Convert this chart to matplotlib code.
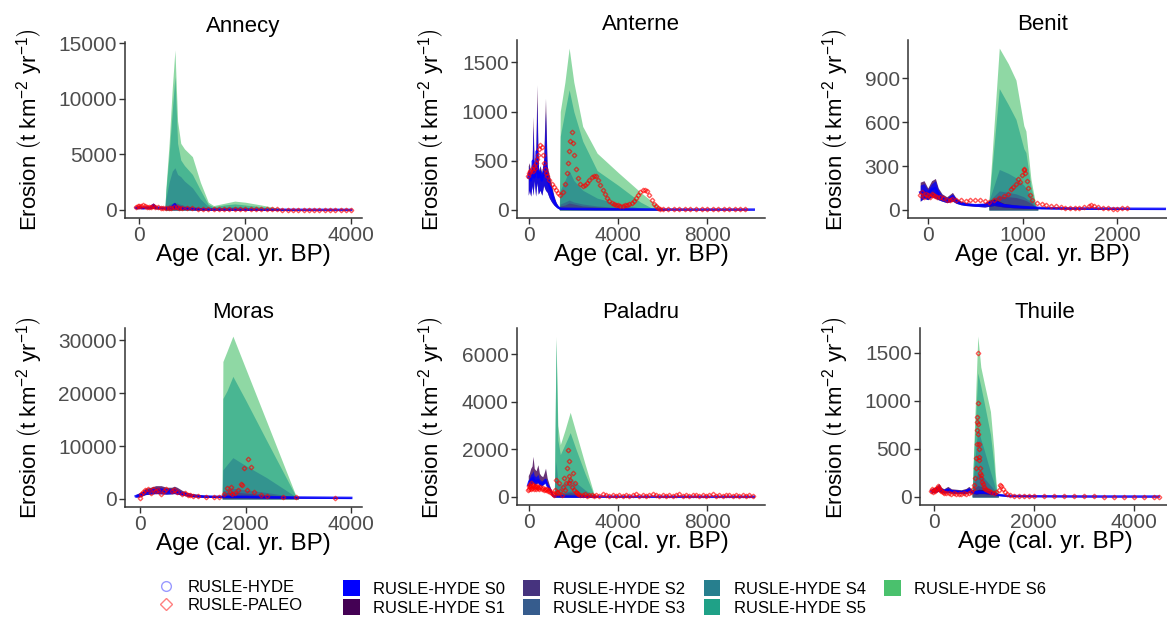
import matplotlib
matplotlib.use("Agg")
import matplotlib.pyplot as plt
from matplotlib.lines import Line2D
from matplotlib.patches import Patch

plt.rcParams['font.family'] = ['Liberation Sans', 'DejaVu Sans']
plt.rcParams['mathtext.fontset'] = 'custom'
plt.rcParams['mathtext.rm'] = 'Liberation Sans'
plt.rcParams['mathtext.it'] = 'Liberation Sans:italic'

W, H = 1167, 619

scenario_labels = ["RUSLE-HYDE S0", "RUSLE-HYDE S1", "RUSLE-HYDE S2", "RUSLE-HYDE S3",
                   "RUSLE-HYDE S4", "RUSLE-HYDE S5", "RUSLE-HYDE S6"]
scenario_colors = ["#0000FF", "#440154", "#46337E", "#365C8D", "#277F8E", "#1FA187", "#4AC16D"]

# ---------------- Annecy ----------------
annecy_age = [-70, 0, 60, 120, 200, 260, 320, 400, 500, 600, 660, 720, 800, 1000, 1300, 2000, 3000, 4000]
annecy_low = [100, 120, 100, 120, 110, 150, 100, 100, 90, 80, 120, 90, 70, 40, 20, 10, 5, 3]
annecy_s1 = [300, 350, 280, 300, 280, 650, 300, 250, 220, 250, 700, 300, 220, 120, 60, 30, 20, 15]
annecy_s0 = [250, 300, 250, 270, 250, 580, 270, 220, 200, 220, 640, 280, 200, 100, 50, 25, 15, 10]
annecy_hyde = [200, 250, 200, 230, 220, 450, 230, 200, 170, 200, 500, 230, 170, 90, 45, 25, 15, 10]
annecy_sc_age = [480, 500, 560, 620, 670, 720, 780, 850, 1000, 1150, 1300, 1400, 1600, 1800, 2000, 2300, 2700, 3000]
annecy_s6 = [200, 2000, 6000, 11000, 14400, 8000, 6000, 5500, 4800, 2500, 700, 400, 600, 800, 700, 450, 100, 20]
annecy_s5 = [200, 1800, 5000, 9000, 12000, 6000, 4500, 4000, 3200, 1800, 500, 300, 450, 550, 450, 300, 80, 15]
annecy_s4 = [200, 1000, 2500, 3500, 3800, 3200, 3000, 2600, 2000, 1000, 300, 200, 250, 300, 250, 150, 50, 10]
annecy_s3 = [150, 300, 500, 600, 700, 600, 500, 400, 300, 200, 100, 80, 100, 120, 100, 60, 30, 10]
annecy_s2 = [150, 250, 350, 400, 450, 400, 350, 300, 250, 150, 80, 60, 70, 80, 70, 40, 20, 10]
annecy_pal_age = [-70, -30, 0, 30, 60, 100, 140, 180, 220, 260, 300, 350, 400, 450, 500, 550, 600, 650,
                  700, 750, 800, 900, 1000, 1100, 1200, 1300, 1400, 1500, 1600, 1700, 1800, 1900, 2000,
                  2100, 2200, 2300, 2400, 2500, 2600, 2700, 2800, 2900, 3000, 3100, 3200, 3300, 3400,
                  3500, 3600, 3700, 3800, 3900, 4000]
annecy_pal = [300, 350, 400, 380, 420, 350, 300, 250, 280, 330, 300, 250, 220, 200, 180, 200, 220, 250,
              230, 200, 180, 160, 140, 130, 120, 110, 100, 90, 90, 85, 80, 75, 70, 65, 60, 55, 50, 50,
              45, 40, 40, 35, 35, 30, 30, 30, 25, 25, 25, 20, 20, 20, 20]
annecy_xticks = [0, 2000, 4000]
annecy_yticks = [0, 5000, 10000, 15000]

# ---------------- Anterne ----------------
anterne_age = [-50, 0, 60, 120, 164, 220, 280, 340, 400, 480, 560, 640, 725, 800, 900, 1000, 1100, 1200,
               1300, 1400, 2000, 3000, 5000, 7000, 10100]
anterne_low = [150, 200, 140, 250, 150, 300, 140, 280, 160, 200, 150, 250, 200, 180, 120, 80, 50, 30,
               15, 8, 5, 4, 3, 2, 2]
anterne_s1 = [450, 480, 350, 450, 950, 400, 500, 1273, 400, 450, 380, 500, 1137, 450, 350, 250, 150, 80,
              40, 20, 15, 10, 6, 4, 3]
anterne_s0 = [400, 450, 320, 420, 850, 380, 460, 1100, 380, 420, 350, 450, 1000, 400, 320, 220, 130, 70,
              35, 18, 12, 8, 5, 3, 3]
anterne_hyde = [330, 380, 300, 350, 500, 330, 400, 600, 330, 380, 300, 380, 500, 330, 250, 180, 100, 50,
                25, 12, 10, 7, 5, 3, 3]
anterne_sc_age = [1350, 1390, 1600, 1790, 2000, 2400, 3050, 4000, 5000, 5500, 6000, 6200]
anterne_s6 = [10, 1000, 1300, 1646, 1300, 850, 577, 380, 180, 90, 10, 5]
anterne_s5 = [10, 750, 1000, 1222, 1000, 700, 400, 250, 80, 20, 5, 5]
anterne_s4 = [10, 200, 300, 400, 300, 200, 120, 60, 20, 10, 5, 5]
anterne_s3 = [10, 60, 80, 100, 80, 60, 40, 25, 10, 5, 5, 5]
anterne_s2 = [10, 40, 50, 70, 60, 40, 30, 20, 8, 5, 5, 5]
anterne_pal_age = [-50, 0, 50, 100, 150, 200, 250, 300, 350, 400, 450, 500, 550, 600, 650, 700, 750, 800,
                   900, 1000, 1100, 1200, 1300, 1400, 1500, 1600, 1700, 1750, 1800, 1850, 1900, 1950, 2000,
                   2100, 2200, 2300, 2400, 2500, 2600, 2700, 2800, 2900, 3000, 3100, 3200, 3300, 3400,
                   3500, 3600, 3700, 3800, 3900, 4000, 4100, 4200, 4300, 4400, 4500, 4600, 4700, 4800,
                   4900, 5000, 5100, 5200, 5300, 5400, 5500, 5600, 5700, 5800, 5900, 6000, 6250, 6500,
                   6750, 7000, 7250, 7500, 7750, 8000, 8250, 8500, 8750, 9000, 9250, 9500, 9700]
anterne_pal = [350, 380, 400, 420, 400, 450, 430, 480, 520, 560, 620, 660, 640, 560, 480, 420, 380, 340,
               300, 260, 230, 200, 170, 155, 180, 260, 380, 480, 600, 700, 790, 680, 560, 420, 320, 260,
               240, 250, 270, 300, 330, 350, 340, 300, 250, 200, 160, 125, 95, 75, 60, 50, 45, 40, 40,
               45, 50, 60, 75, 95, 120, 150, 180, 200, 205, 190, 150, 100, 60, 35, 20, 12, 8, 6, 5, 5,
               5, 5, 5, 5, 5, 5, 5, 5, 5, 5, 5, 5]
anterne_xticks = [0, 4000, 8000]
anterne_yticks = [0, 500, 1000, 1500]

# ---------------- Benit ----------------
benit_age = [-80, -40, 0, 40, 80, 110, 150, 200, 260, 300, 350, 400, 500, 600, 650, 700, 750, 800, 900,
             1000, 1100, 1200, 1500, 2000, 2500]
benit_low = [60, 80, 70, 90, 80, 70, 60, 50, 60, 45, 35, 30, 25, 20, 25, 30, 25, 20, 15, 12, 10, 8, 6, 5, 5]
benit_s1 = [190, 200, 150, 200, 215, 150, 110, 90, 120, 80, 60, 50, 40, 45, 65, 75, 60, 45, 35, 28, 22,
            18, 12, 10, 8]
benit_s0 = [170, 180, 140, 180, 200, 140, 100, 80, 110, 75, 55, 45, 38, 42, 60, 70, 55, 40, 30, 25, 20,
            16, 11, 9, 8]
benit_hyde = [120, 130, 110, 140, 150, 110, 80, 65, 90, 60, 45, 38, 32, 35, 50, 55, 45, 32, 25, 20, 16,
              13, 10, 8, 7]
benit_sc_age = [645, 754, 850, 930, 1013, 1035, 1088, 1140, 1160]
benit_s6 = [60, 1108, 1000, 889, 577, 540, 210, 30, 15]
benit_s5 = [60, 831, 720, 620, 420, 393, 160, 25, 15]
benit_s4 = [60, 277, 250, 220, 170, 150, 90, 20, 15]
benit_s3 = [60, 130, 120, 110, 90, 80, 55, 18, 15]
benit_s2 = [60, 95, 90, 85, 70, 65, 45, 18, 15]
benit_pal_age = [-80, -60, -40, -20, 0, 20, 40, 60, 80, 100, 130, 160, 200, 230, 260, 300, 350, 400, 450,
                 500, 550, 600, 650, 700, 750, 800, 850, 880, 900, 930, 950, 970, 990, 1010, 1020, 1030,
                 1045, 1060, 1080, 1100, 1150, 1200, 1250, 1300, 1350, 1400, 1450, 1500, 1550, 1600,
                 1650, 1700, 1720, 1750, 1800, 1850, 1900, 1950, 2000, 2050, 2100]
benit_pal = [100, 120, 90, 110, 100, 90, 110, 100, 95, 90, 85, 80, 70, 65, 75, 70, 65, 60, 65, 70, 65, 60,
             55, 70, 80, 95, 110, 140, 160, 180, 210, 190, 240, 270, 283, 250, 200, 150, 100, 70, 50, 40,
             35, 30, 25, 20, 15, 12, 10, 12, 20, 30, 35, 25, 18, 12, 10, 8, 8, 10, 12]
benit_xticks = [0, 1000, 2000]
benit_yticks = [0, 300, 600, 900]

# ---------------- Moras ----------------
moras_age = [-80, 0, 50, 100, 200, 300, 400, 500, 600, 650, 700, 800, 900, 1000, 1200, 1400, 1600, 2000,
             2500, 3000, 4000]
moras_low = [300, 400, 600, 800, 900, 1000, 950, 900, 950, 1000, 900, 700, 500, 400, 300, 250, 250, 250,
             200, 150, 100]
moras_s1 = [800, 1200, 1500, 2000, 2200, 2500, 2500, 2200, 2200, 2400, 2200, 1600, 1200, 1000, 700, 600,
            600, 550, 450, 350, 250]
moras_s0 = [700, 1000, 1300, 1700, 1900, 2100, 2100, 1900, 1900, 2000, 1800, 1300, 1000, 800, 600, 500,
            500, 480, 400, 300, 220]
moras_hyde = [500, 800, 1000, 1300, 1500, 1600, 1600, 1500, 1500, 1600, 1400, 1000, 800, 600, 450, 400,
              400, 380, 300, 250, 180]
moras_sc_age = [1556, 1570, 1650, 1759, 2000, 2400, 2952, 3000]
moras_s6 = [600, 26000, 28000, 30800, 24700, 14600, 600, 300]
moras_s5 = [600, 19000, 20500, 23180, 18700, 11000, 500, 300]
moras_s4 = [600, 5500, 6500, 7800, 6300, 4000, 400, 300]
moras_s3 = [600, 1500, 1800, 2000, 1700, 1200, 350, 300]
moras_s2 = [600, 1000, 1200, 1300, 1100, 800, 330, 300]
moras_pal_age = [0, 20, 50, 100, 150, 200, 250, 300, 350, 400, 450, 500, 600, 650, 700, 800, 850, 900,
                 950, 1000, 1100, 1250, 1400, 1500, 1600, 1650, 1700, 1720, 1750, 1800, 1850, 1905, 1930,
                 1968, 2032, 2050, 2095, 2150, 2300, 2400, 2700, 2950, 3700]
moras_pal = [200, 900, 1300, 1600, 1800, 1200, 1900, 1500, 1700, 1000, 1400, 1800, 1500, 1700, 1300,
             1000, 1100, 800, 700, 600, 500, 400, 300, 400, 900, 2000, 1300, 2300, 900, 1100, 1600, 2870,
             2600, 5750, 1590, 7470, 6050, 1300, 700, 500, 400, 300, 150]
moras_xticks = [0, 2000, 4000]
moras_yticks = [0, 10000, 20000, 30000]

# ---------------- Paladru ----------------
paladru_age = [-50, 0, 60, 120, 164, 220, 300, 385, 450, 520, 600, 660, 726, 800, 900, 1000, 1060, 1100,
               1500, 2000, 3000, 5000, 8000, 10100]
paladru_low = [400, 450, 500, 550, 600, 500, 550, 600, 500, 450, 500, 550, 600, 450, 300, 150, 50, 20, 15,
               10, 8, 5, 5, 5]
paladru_s1 = [900, 1000, 1200, 1300, 1706, 1200, 1100, 1352, 1000, 900, 850, 1000, 1210, 800, 500, 250,
              80, 40, 30, 20, 15, 10, 8, 8]
paladru_s0 = [600, 800, 950, 1000, 1100, 900, 850, 950, 750, 700, 650, 750, 800, 600, 400, 200, 60, 30,
              25, 18, 12, 8, 7, 6]
paladru_hyde = [500, 650, 700, 750, 800, 700, 650, 700, 600, 550, 550, 650, 700, 500, 350, 180, 55, 25,
                20, 15, 10, 7, 6, 5]
paladru_sc_age = [1100, 1126, 1200, 1280, 1393, 1600, 1837, 2100, 2500, 2900, 3000]
paladru_s6 = [30, 200, 6755, 3000, 2200, 2800, 3555, 2700, 1400, 150, 30]
paladru_s5 = [30, 200, 6600, 2400, 1780, 2200, 2700, 2000, 1000, 100, 30]
paladru_s4 = [30, 100, 1500, 600, 500, 600, 800, 600, 300, 50, 30]
paladru_s3 = [30, 60, 300, 200, 150, 200, 250, 200, 100, 40, 30]
paladru_s2 = [30, 50, 200, 150, 100, 150, 180, 150, 80, 35, 30]
paladru_pal_age = [-50, -20, 0, 20, 40, 60, 80, 100, 130, 160, 190, 220, 250, 280, 310, 340, 370, 400,
                   450, 500, 550, 600, 650, 700, 750, 800, 850, 900, 950, 1000, 1050, 1100, 1150, 1200,
                   1250, 1300, 1350, 1400, 1450, 1500, 1550, 1600, 1650, 1700, 1750, 1800, 1800, 1800,
                   1850, 1900, 1950, 2000, 2050, 2100, 2150, 2200, 2300, 2400, 2500, 2600, 2700, 2800,
                   2900, 3000, 3150, 3300, 3450, 3600, 3750, 3900, 4050, 4200, 4350, 4500, 4650, 4800,
                   4950, 5100, 5250, 5400, 5550, 5700, 5850, 6000, 6150, 6300, 6450, 6600, 6750, 6900,
                   7050, 7200, 7350, 7500, 7650, 7800, 7950, 8100, 8250, 8400, 8550, 8700, 8850, 9000,
                   9150, 9300, 9450, 9600, 9750, 9900, 10050]
paladru_pal = [300, 450, 350, 500, 400, 600, 350, 450, 380, 500, 420, 350, 480, 400, 330, 450, 380, 420,
               350, 400, 320, 380, 300, 350, 280, 320, 250, 300, 200, 150, 120, 100, 300, 700, 200, 150,
               600, 250, 100, 400, 800, 300, 600, 1200, 1990, 900, 1500, 600, 700, 400, 1000, 300, 600,
               200, 150, 120, 100, 80, 120, 60, 100, 80, 60, 90, 50, 110, 70, 40, 90, 60, 100, 50, 80,
               40, 70, 110, 60, 90, 50, 80, 120, 70, 40, 90, 60, 100, 50, 80, 120, 60, 90, 40, 70, 100,
               60, 80, 50, 90, 110, 60, 80, 40, 100, 70, 50, 90, 60, 80, 50, 70, 60]
paladru_xticks = [0, 4000, 8000]
paladru_yticks = [0, 2000, 4000, 6000]

# ---------------- Thuile ----------------
thuile_age = [-50, 0, 50, 100, 150, 200, 280, 350, 450, 550, 650, 700, 750, 800, 850, 900, 1000, 1100,
              1200, 1300, 1500, 2000, 3000, 4500]
thuile_low = [40, 45, 50, 60, 45, 40, 45, 40, 35, 35, 35, 45, 40, 35, 30, 35, 35, 30, 25, 15, 8, 5, 4, 3]
thuile_s1 = [90, 100, 110, 140, 100, 85, 110, 85, 80, 75, 90, 110, 85, 70, 70, 80, 75, 65, 55, 30, 15,
             10, 6, 5]
thuile_s0 = [80, 90, 95, 120, 90, 75, 95, 75, 70, 65, 80, 95, 75, 60, 60, 70, 65, 55, 45, 25, 12, 8, 5, 4]
thuile_hyde = [60, 70, 75, 90, 70, 60, 75, 60, 55, 50, 60, 75, 60, 50, 50, 55, 50, 45, 35, 20, 10, 7, 5, 4]
thuile_sc_age = [767, 790, 880, 940, 1000, 1133, 1200, 1233, 1267, 1290]
thuile_s6 = [40, 400, 1673, 1350, 1203, 889, 500, 226, 50, 20]
thuile_s5 = [40, 350, 1290, 1150, 1000, 650, 350, 150, 40, 20]
thuile_s4 = [40, 200, 720, 600, 500, 260, 150, 80, 30, 20]
thuile_s3 = [40, 120, 250, 220, 200, 120, 80, 50, 25, 20]
thuile_s2 = [40, 80, 120, 110, 100, 80, 60, 40, 25, 20]
thuile_pal_age = [-50, -30, -10, 10, 30, 50, 70, 90, 110, 130, 150, 180, 210, 250, 300, 350, 400, 450,
                  500, 550, 600, 650, 700, 750, 780, 800, 820, 835, 845, 855, 862, 868, 872, 875, 880,
                  885, 890, 895, 900, 905, 910, 920, 930, 940, 950, 965, 980, 1000, 1030, 1060, 1100,
                  1150, 1200, 1250, 1300, 1330, 1350, 1380, 1420, 1470, 1520, 1600, 1700, 1800, 1900,
                  2000, 2200, 2400, 2600, 2800, 3000, 3200, 3400, 3600, 3800, 4000, 4200, 4400, 4500]
thuile_pal = [60, 80, 50, 70, 60, 80, 90, 110, 90, 70, 60, 50, 45, 40, 45, 35, 40, 30, 35, 30, 40, 35, 45,
              55, 80, 120, 200, 300, 400, 550, 700, 780, 830, 976, 1500, 760, 650, 550, 500, 420, 380,
              300, 250, 230, 200, 160, 130, 100, 80, 70, 60, 50, 45, 50, 70, 121, 110, 80, 50, 30, 20,
              12, 10, 8, 8, 7, 6, 6, 5, 5, 5, 5, 4, 4, 4, 4, 4, 4, 4]
thuile_xticks = [0, 2000, 4000]
thuile_yticks = [0, 500, 1000, 1500]

# axes boxes in pixels: left, top, right, bottom
boxes = {
    "Annecy": (125, 42, 362, 218),
    "Anterne": (517, 40, 765, 218),
    "Benit": (908, 40, 1177, 218),
    "Moras": (125, 328, 362, 507),
    "Paladru": (517, 328, 765, 505),
    "Thuile": (920, 328, 1170, 505),
}

fig = plt.figure(figsize=(W / 100, H / 100), dpi=100)


def draw_lake(name, age, low, s0, s1, hyde, sc_age, s2, s3, s4, s5, s6, pal_age, pal, xticks, yticks):
    l, t, r, b = boxes[name]
    ax = fig.add_axes([l / W, 1 - b / H, (r - l) / W, (b - t) / H])
    for up, col in zip([s6, s5, s4, s3, s2], scenario_colors[6:1:-1]):
        ax.fill_between(sc_age, 0, up, color=col, alpha=0.62, lw=0)
    ax.fill_between(age, low, s1, color=scenario_colors[1], alpha=0.8, lw=0)
    ax.fill_between(age, low, s0, color=scenario_colors[0], alpha=0.75, lw=0)
    ax.plot(age, hyde, color="blue", lw=1.8, alpha=0.85)
    ax.plot(pal_age, pal, ls="none", marker="D", ms=2.3, mfc="none", mec="red", mew=1.0, alpha=0.65)
    ax.set_xticks(xticks)
    ax.set_yticks(yticks)
    for s in ["top", "right"]:
        ax.spines[s].set_visible(False)
    for s in ["left", "bottom"]:
        ax.spines[s].set_color("#333333")
        ax.spines[s].set_linewidth(1.1)
    ax.tick_params(labelsize=15, labelcolor="#4D4D4D", color="#333333", length=4, width=1, pad=2)
    ax.set_xlabel("Age (cal. yr. BP)", fontsize=17.5, labelpad=-1)
    ax.set_title(name, fontsize=16, pad=7)
    return ax


draw_lake("Annecy", annecy_age, annecy_low, annecy_s0, annecy_s1, annecy_hyde, annecy_sc_age, annecy_s2,
          annecy_s3, annecy_s4, annecy_s5, annecy_s6, annecy_pal_age, annecy_pal, annecy_xticks, annecy_yticks)
draw_lake("Anterne", anterne_age, anterne_low, anterne_s0, anterne_s1, anterne_hyde, anterne_sc_age,
          anterne_s2, anterne_s3, anterne_s4, anterne_s5, anterne_s6, anterne_pal_age, anterne_pal,
          anterne_xticks, anterne_yticks)
draw_lake("Benit", benit_age, benit_low, benit_s0, benit_s1, benit_hyde, benit_sc_age, benit_s2, benit_s3,
          benit_s4, benit_s5, benit_s6, benit_pal_age, benit_pal, benit_xticks, benit_yticks)
draw_lake("Moras", moras_age, moras_low, moras_s0, moras_s1, moras_hyde, moras_sc_age, moras_s2, moras_s3,
          moras_s4, moras_s5, moras_s6, moras_pal_age, moras_pal, moras_xticks, moras_yticks)
draw_lake("Paladru", paladru_age, paladru_low, paladru_s0, paladru_s1, paladru_hyde, paladru_sc_age,
          paladru_s2, paladru_s3, paladru_s4, paladru_s5, paladru_s6, paladru_pal_age, paladru_pal,
          paladru_xticks, paladru_yticks)
draw_lake("Thuile", thuile_age, thuile_low, thuile_s0, thuile_s1, thuile_hyde, thuile_sc_age, thuile_s2,
          thuile_s3, thuile_s4, thuile_s5, thuile_s6, thuile_pal_age, thuile_pal, thuile_xticks, thuile_yticks)

ylab = r"Erosion $\left(\mathregular{t\ km^{-2}\ yr^{-1}}\right)$"
for x in [30, 432, 836]:
    for y in [130, 418]:
        fig.text(x / W, 1 - y / H, ylab, rotation=90, ha="center", va="center", fontsize=16)

pt_handles = [
    Line2D([], [], ls="none", marker="o", ms=7, mfc="none", mec="blue", mew=1, alpha=0.4),
    Line2D([], [], ls="none", marker="D", ms=6, mfc="none", mec="red", mew=1, alpha=0.5),
]
fig.legend(pt_handles, ["RUSLE-HYDE", "RUSLE-PALEO"], loc="upper left",
           bbox_to_anchor=(158 / W, 1 - 580 / H), frameon=False, fontsize=12, handlelength=1.0,
           handletextpad=0.8, labelspacing=0.15, borderpad=0, borderaxespad=0)

fill_handles = [Patch(facecolor=c, edgecolor="none") for c in scenario_colors]
fig.legend(fill_handles, scenario_labels, loc="upper left", ncol=4,
           bbox_to_anchor=(343 / W, 1 - 580 / H), frameon=False, fontsize=12, handlelength=1.0,
           handleheight=1.1, handletextpad=0.8, columnspacing=1.1, labelspacing=0.15, borderpad=0,
           borderaxespad=0)

fig.savefig("out.png", dpi=100)
